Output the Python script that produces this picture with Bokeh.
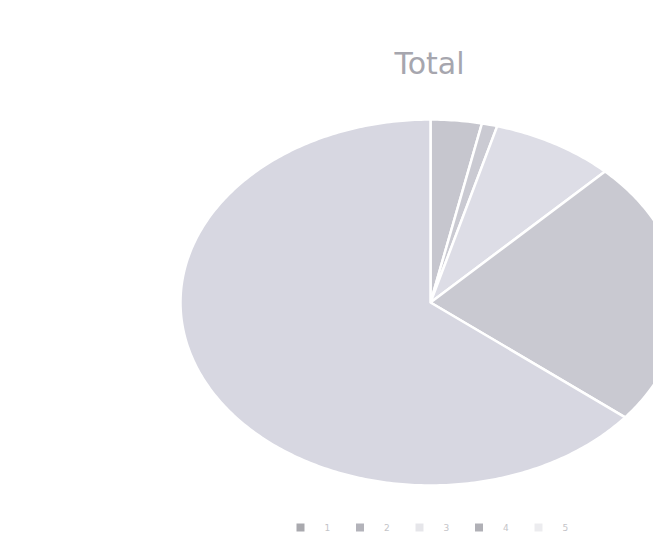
import numpy as np
from bokeh.plotting import figure
from bokeh.models import Range1d, ColumnDataSource
from bokeh.core.properties import value
from bokeh.embed import file_html
from bokeh.resources import INLINE

# ---- data ----
title_text = "Total"
categories = ["1", "2", "3", "4", "5"]
values = [3.3, 1.0, 8.0, 23.5, 64.2]
colors = ["#c6c6ce", "#cacad2", "#dddde6", "#c9c9d1", "#d7d7e1"]
legend_colors = ["#a9a9ae", "#b3b3ba", "#e6e6ea", "#b0b0b6", "#ececef"]

W, H = 653, 533
p = figure(width=W, height=H, output_backend="svg", toolbar_location=None,
           x_range=Range1d(0, W), y_range=Range1d(H, 0),
           min_border=0, outline_line_color=None)
p.axis.visible = False
p.grid.visible = False
p.background_fill_color = "white"
p.border_fill_color = "white"

cx, cy, rx, ry = 430, 302, 250, 183
vals = np.array(values, dtype=float)
fr = vals / vals.sum()
ends = np.cumsum(fr) * 2 * np.pi
starts = ends - fr * 2 * np.pi
xs, ys = [], []
for a0, a1 in zip(starts, ends):
    t = np.linspace(a0, a1, max(4, int((a1 - a0) * 80)))
    xs.append([cx] + list(cx + rx * np.sin(t)) + [cx])
    ys.append([cy] + list(cy - ry * np.cos(t)) + [cy])
src = ColumnDataSource(dict(xs=xs, ys=ys, color=colors, cat=categories))
p.patches("xs", "ys", source=src, fill_color="color", line_color="white",
          line_width=2.5, line_join="round")

p.text(x=[429], y=[63], text=[title_text], text_font=value("DejaVu Sans"),
       text_font_size="30px", text_color="#a6a6ae", text_align="center",
       text_baseline="middle")

# legend
lx = [300 + i * 59.5 for i in range(len(categories))]
ly = [527] * len(categories)
p.scatter(x=lx, y=ly, marker="square", size=8, fill_color=legend_colors,
          line_color=None)
p.text(x=[x + 24 for x in lx], y=ly, text=categories, text_font=value("DejaVu Sans"),
       text_font_size="9px", text_color="#c4c4c8", text_align="left",
       text_baseline="middle")

open("out.html", "w").write(file_html(p, INLINE))
